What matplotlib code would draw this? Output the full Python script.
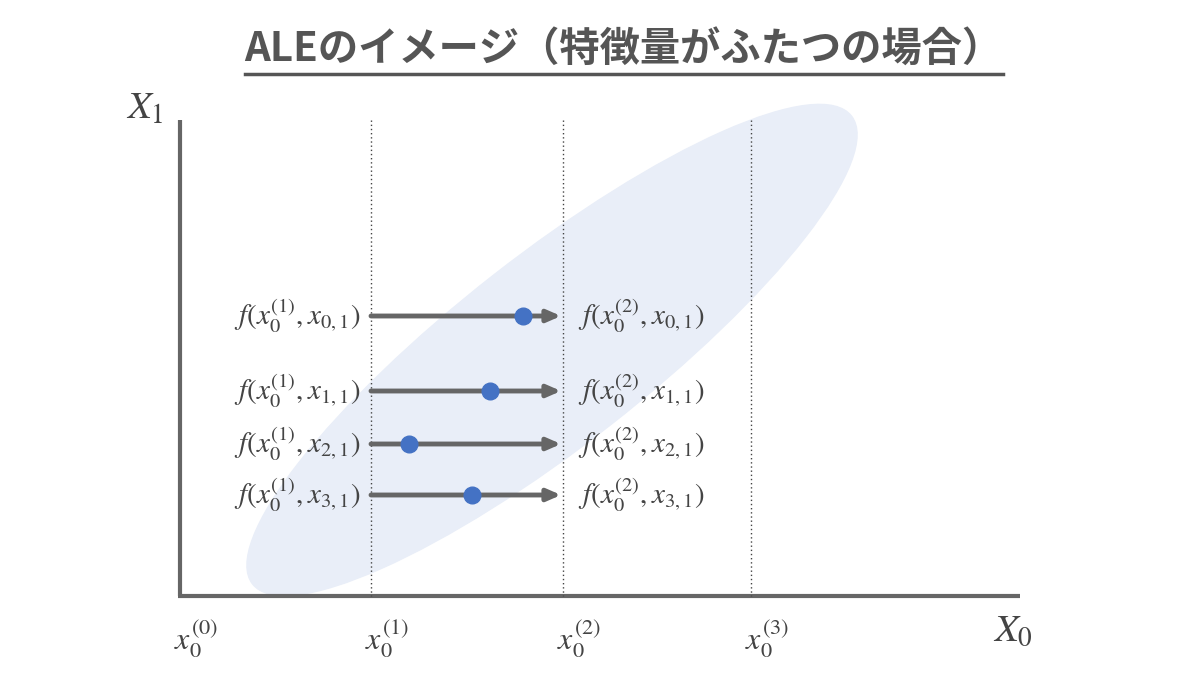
import matplotlib
matplotlib.use("Agg")
import matplotlib.pyplot as plt
from matplotlib.patches import Ellipse

plt.rcParams['font.family'] = ['Noto Sans CJK JP', 'DejaVu Sans']
plt.rcParams['mathtext.fontset'] = 'stix'

title = "ALEのイメージ（特徴量がふたつの場合）"
grid_x = [180, 371, 563, 751]          # x0^(k) positions
grid_labels = [r"$x_0^{(0)}$", r"$x_0^{(1)}$", r"$x_0^{(2)}$", r"$x_0^{(3)}$"]
rows_y = [316, 391, 444, 495]
row_idx = ["0,1", "1,1", "2,1", "3,1"]
dots_x = [523, 490, 409, 472]

gray = "#666666"
fig = plt.figure(figsize=(12, 6.75), dpi=100)
ax = fig.add_axes([0, 0, 1, 1])
ax.set_xlim(0, 1200); ax.set_ylim(675, 0); ax.axis('off')

ax.add_patch(Ellipse((552, 350), 760, 190, angle=-38, color="#e9eef8", zorder=0))

ax.plot([180, 180], [120, 596], color=gray, lw=3, solid_capstyle='butt')
ax.plot([178, 1020], [596, 596], color=gray, lw=3, solid_capstyle='butt')
for gx in grid_x[1:]:
    ax.plot([gx, gx], [120, 596], color="#444444", lw=1, ls=(0, (1, 2)))

for i, lab in enumerate(grid_labels):
    ax.text(grid_x[i] + 16, 638, lab, fontsize=23, color="#444444", ha='center', va='center')
ax.text(145, 108, r"$X_1$", fontsize=28, color="#444444", ha='center', va='center')
ax.text(1013, 630, r"$X_0$", fontsize=28, color="#444444", ha='center', va='center')

for y, idx, dx in zip(rows_y, row_idx, dots_x):
    ax.annotate("", xy=(561, y), xytext=(371, y),
                arrowprops=dict(arrowstyle="-|>,head_length=0.8,head_width=0.35", color=gray, lw=3.5, shrinkA=0, shrinkB=0))
    ax.plot(dx, y, 'o', ms=12, color="#4472c4", zorder=5)
    ax.text(360, y, r"$f(x_0^{(1)}, x_{%s})$" % idx, fontsize=21, color="#444444", ha='right', va='center')
    ax.text(578, y, r"$f(x_0^{(2)}, x_{%s})$" % idx, fontsize=21, color="#444444", ha='left', va='center')

ax.text(623, 50, title, fontsize=29, fontweight='bold', color="#555555", ha='center', va='center')
ax.plot([245, 1003], [74, 74], color="#555555", lw=2.5)

fig.savefig("out.png", dpi=100)
